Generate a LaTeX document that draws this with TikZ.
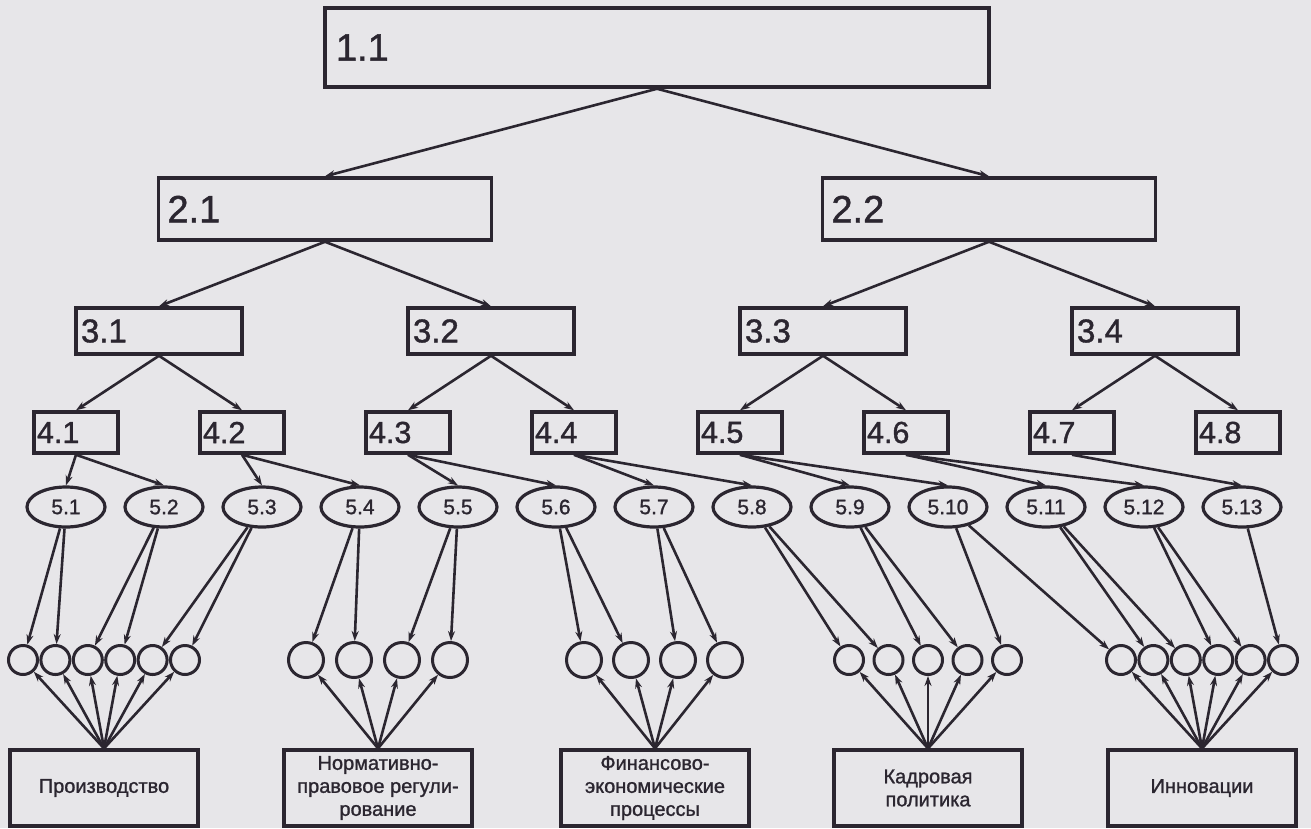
\documentclass[tikz,border=0pt]{standalone}
\usepackage{fontspec}
\setmainfont{Liberation Sans}[BoldFont=Liberation Sans, BoldFeatures={FakeBold=1.2}]
\usetikzlibrary{arrows.meta,shapes.geometric}
\definecolor{ink}{HTML}{2B2630}
\definecolor{paper}{HTML}{E7E6E9}
\begin{document}
\begin{tikzpicture}[x=1pt,y=-1pt,
  box/.style={draw=ink, line width=3.5pt, inner ysep=0pt, align=left, text=ink},
  bA/.style={box, inner xsep=11pt, text width=642pt, minimum height=79pt, font=\fontsize{38}{38}\selectfont\bfseries},
  bB/.style={box, inner xsep=9pt, text width=315pt, minimum height=62pt, font=\fontsize{38}{38}\selectfont\bfseries},
  bC/.style={box, inner xsep=5pt, text width=156pt, minimum height=46pt, font=\fontsize{33}{33}\selectfont\bfseries},
  bD/.style={box, inner xsep=3pt, text width=78pt, minimum height=41pt, font=\fontsize{30.5}{30.5}\selectfont\bfseries},
  ell/.style={ellipse, draw=ink, line width=3.2pt, minimum width=78pt, minimum height=40pt, inner sep=0pt, text=ink, font=\fontsize{21}{21}\selectfont\bfseries},
  csm/.style={circle, draw=ink, line width=3pt, minimum size=29pt, inner sep=0pt},
  clg/.style={circle, draw=ink, line width=3pt, minimum size=35pt, inner sep=0pt},
  area/.style={draw=ink, line width=3.2pt, minimum width=188pt, minimum height=76pt, align=center, inner sep=0pt, text=ink, font=\fontsize{20}{23}\selectfont\bfseries},
  arr/.style={draw=ink, line width=2.6pt, -{Stealth[length=10pt,width=7pt]}}
]
\fill[paper] (0,0) rectangle (1311,828);
\useasboundingbox (0,0) rectangle (1311,828);

% level 1-4 boxes
\node[bA] (n11) at (657,47.5) {1.1};
\node[bB] (n21) at (325,209) {2.1};
\node[bB] (n22) at (989,209) {2.2};
\node[bC] (n31) at (159,331) {3.1};
\node[bC] (n32) at (491,331) {3.2};
\node[bC] (n33) at (823,331) {3.3};
\node[bC] (n34) at (1155,331) {3.4};
\foreach \i in {1,...,8}
  \node[bD] (n4\i) at ({76+166*(\i-1)},432.5) {4.\i};

% level 5 ellipses
\foreach \i in {1,...,13}
  \node[ell] (e\i) at ({66+98*(\i-1)},507) {5.\i};

% circles
\foreach \k in {1,...,6} \node[csm] (a\k) at ({104+32.4*(\k-3.5)},660) {};
\foreach \k in {1,...,4} \node[clg] (b\k) at ({378+48*(\k-2.5)},660) {};
\foreach \k in {1,...,4} \node[clg] (c\k) at ({654.5+47*(\k-2.5)},660) {};
\foreach \k in {1,...,5} \node[csm] (d\k) at ({928+39.5*(\k-3)},660) {};
\foreach \k in {1,...,6} \node[csm] (f\k) at ({1202+32.4*(\k-3.5)},660) {};

% bottom areas
\node[area] (p1) at (104,788) {Производство};
\node[area] (p2) at (378,788) {Нормативно-\\правовое регули-\\рование};
\node[area] (p3) at (655,788) {Финансово-\\экономические\\процессы};
\node[area] (p4) at (928,788) {Кадровая\\политика};
\node[area] (p5) at (1202,788) {Инновации};

% tree connectors
\foreach \p/\c in {n11/n21,n11/n22,n21/n31,n21/n32,n22/n33,n22/n34,
  n31/n41,n31/n42,n32/n43,n32/n44,n33/n45,n33/n46,n34/n47,n34/n48}
  \draw[arr] (\p.south) -- (\c.north);

% level 4 -> 5
\foreach \p/\c in {n41/e1,n41/e2,n42/e3,n42/e4,n43/e5,n43/e6,n44/e7,n44/e8,
  n45/e9,n45/e10,n46/e11,n46/e12,n47/e13}
  \draw[arr] (\p.south) -- (\c.north);

% level 5 -> circles
\foreach \p/\c in {e1/a1,e1/a2,e2/a3,e2/a4,e3/a5,e3/a6,e4/b1,e4/b2,e5/b3,e5/b4,
  e6/c1,e6/c2,e7/c3,e7/c4,e8/d1,e8/d2,e9/d3,e9/d4,e10/d5,e10/f1,
  e11/f2,e11/f3,e12/f4,e12/f5,e13/f6}
  \draw[arr] (\p) -- (\c);

% areas -> circles
\foreach \k in {1,...,6} \draw[arr] (p1.north) -- (a\k);
\foreach \k in {1,...,4} \draw[arr] (p2.north) -- (b\k);
\foreach \k in {1,...,4} \draw[arr] (p3.north) -- (c\k);
\foreach \k in {1,...,5} \draw[arr] (p4.north) -- (d\k);
\foreach \k in {1,...,6} \draw[arr] (p5.north) -- (f\k);
\end{tikzpicture}
\end{document}
